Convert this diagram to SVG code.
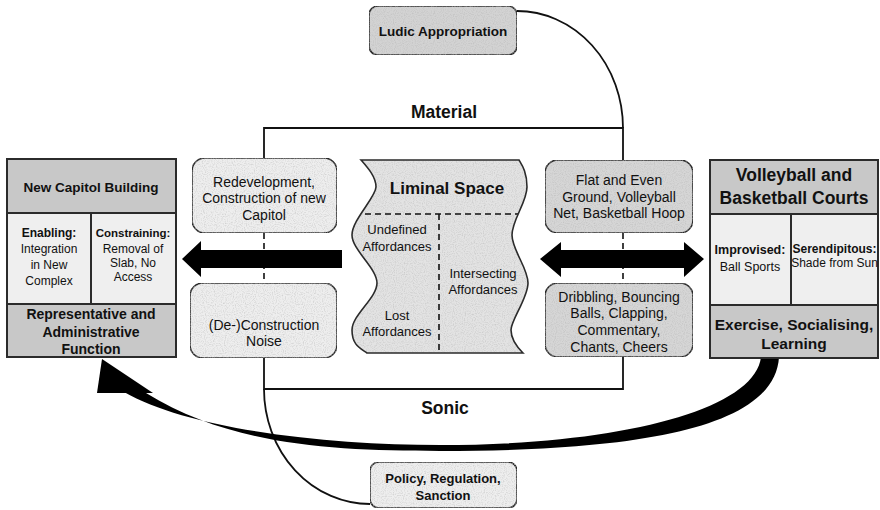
<svg xmlns="http://www.w3.org/2000/svg" width="880" height="510" viewBox="0 0 880 510">
  <style>
    text { font-family: "Liberation Sans", Arial, sans-serif; fill: #111; text-anchor: middle; }
    .b { font-weight: bold; }
    .h { font-size: 17.5px; font-weight: bold; }
    .t14 { font-size: 14px; }
    .t13 { font-size: 13px; }
    .t12 { font-size: 12px; }
    .frame { fill: none; stroke: #2b2b2b; stroke-width: 2; }
    .dark { fill: #c8c8c8; }
    .light { fill: #efefef; }
    .rbox { stroke: #2b2b2b; stroke-width: 1.6; }
    .line { fill: none; stroke: #111; stroke-width: 1.8; }
    .dash { fill: none; stroke: #111; stroke-width: 1.6; stroke-dasharray: 6 4; }
    .solid { fill: #000; }
  </style>
  <defs>
    <!-- fine paper grain used on the rounded boxes -->
    <filter id="grain" x="0" y="0" width="100%" height="100%">
      <feTurbulence type="fractalNoise" baseFrequency="0.9" numOctaves="1" seed="4" result="t"/>
      <feColorMatrix in="t" type="matrix" values="0 0 0 0 0.45  0 0 0 0 0.45  0 0 0 0 0.45  0 0 0 1.4 -0.62" result="dots"/>
      <feComposite in="dots" in2="SourceGraphic" operator="in" result="speck"/>
      <feMerge><feMergeNode in="SourceGraphic"/><feMergeNode in="speck"/></feMerge>
    </filter>
    <path id="liminalShape" d="M361,160 C368,168 376,177 376,187 S352,220 352,235 S377,268 377,283 S352,315 352,330 S360,348 367,353 L523,353 C518,348 511,340 511,330 S528,298 528,283 S512,250 512,235 S527,202 527,187 S522,165 519,160 Z"/>
    <clipPath id="liminalClip"><use href="#liminalShape"/></clipPath>
  </defs>

  <!-- connectors: frame lines, arcs and arrows -->
  <g id="connectors">
    <!-- material bracket -->
    <path class="line" d="M264,158 L264,128 L623,128 L623,160"/>
    <path class="line" d="M517,11 A106,117 0 0 1 623,128"/>
    <!-- sonic bracket -->
    <path class="line" d="M264,358 L264,389 L623,389 L623,357"/>
    <path class="line" d="M264,389 A106,115 0 0 0 370,504"/>
    <!-- dashed links between stacked boxes -->
    <line class="dash" x1="264" y1="233" x2="264" y2="283"/>
    <line class="dash" x1="623" y1="233" x2="623" y2="283"/>
    <!-- block arrows -->
    <polygon class="solid" points="182,259 201,241 201,250 342,250 342,268 201,268 201,277"/>
    <polygon class="solid" points="540,259 561,242 561,250 684,250 684,242 704,259 684,277 684,268 561,268 561,277"/>
    <!-- curved feedback arrow: tapering band plus head -->
    <path class="solid" d="M779,357 C775,428 640,451 440,451 C330,451 230,445 146,393 L124,392 C190,430 330,445 440,445 C620,445 755,410 761,357 Z"/>
    <polygon class="solid" points="102,359 97,393 153,393"/>
  </g>

  <!-- outer concept: New Capitol Building -->
  <g id="capitol">
    <rect class="dark" x="7" y="159" width="169" height="54"/>
    <rect class="light" x="7" y="213" width="169" height="91"/>
    <rect class="dark" x="7" y="304" width="169" height="53"/>
    <rect class="frame" x="7" y="159" width="169" height="198"/>
    <path class="frame" d="M7,213 H176 M7,304 H176 M91,213 V304"/>
    <text class="b" x="91" y="192" font-size="13.5">New Capitol Building</text>
    <text class="t12 b" x="49" y="237">Enabling:</text>
    <text class="t12" x="49" y="253">Integration</text>
    <text class="t12" x="49" y="269">in New</text>
    <text class="t12" x="49" y="285">Complex</text>
    <text class="b" x="133" y="237" font-size="11.5">Constraining:</text>
    <text class="t12" x="133" y="253">Removal of</text>
    <text class="t12" x="133" y="267">Slab, No</text>
    <text class="t12" x="133" y="281">Access</text>
    <text class="b" x="91" y="319" font-size="14">Representative and</text>
    <text class="b" x="91" y="337" font-size="14">Administrative</text>
    <text class="b" x="91" y="354" font-size="14">Function</text>
  </g>

  <!-- outer concept: Volleyball and Basketball Courts -->
  <g id="courts">
    <rect class="dark" x="710" y="160" width="168" height="54"/>
    <rect class="light" x="710" y="214" width="168" height="91"/>
    <rect class="dark" x="710" y="305" width="168" height="53"/>
    <rect class="frame" x="710" y="160" width="168" height="198"/>
    <path class="frame" d="M710,214 H878 M710,305 H878 M791,214 V305"/>
    <text class="h" x="794" y="181">Volleyball and</text>
    <text class="h" x="794" y="204">Basketball Courts</text>
    <text class="b" x="750" y="254" font-size="12.5">Improvised:</text>
    <text x="750" y="271" font-size="12.5">Ball Sports</text>
    <text class="b t12" x="834.5" y="253">Serendipitous:</text>
    <text class="t12" x="834.5" y="267">Shade from Sun</text>
    <text class="b" x="794" y="330" font-size="15.5">Exercise, Socialising,</text>
    <text class="b" x="794" y="349" font-size="15.5">Learning</text>
  </g>

  <g id="redevelopment">
    <rect class="rbox" x="192" y="158" width="145" height="75" rx="13" fill="#eeeeee" filter="url(#grain)"/>
    <text class="t14" x="264" y="187">Redevelopment,</text>
    <text class="t14" x="264" y="203">Construction of new</text>
    <text class="t14" x="264" y="220">Capitol</text>
  </g>

  <g id="construction-noise">
    <rect class="rbox" x="190" y="283" width="147" height="75" rx="13" fill="#eeeeee" filter="url(#grain)"/>
    <text class="t14" x="264" y="330">(De-)Construction</text>
    <text class="t14" x="264" y="346">Noise</text>
  </g>

  <g id="liminal-space">
    <use href="#liminalShape" fill="#e3e3e3" filter="url(#grain)"/>
    <g clip-path="url(#liminalClip)">
      <line class="dash" x1="345" y1="214" x2="535" y2="214"/>
      <line class="dash" x1="439" y1="214" x2="439" y2="353"/>
    </g>
    <use href="#liminalShape" fill="none" stroke="#2b2b2b" stroke-width="1.6"/>
    <text class="b" x="447" y="194" font-size="17">Liminal Space</text>
    <text class="t13" x="397" y="234">Undefined</text>
    <text class="t13" x="397" y="251">Affordances</text>
    <text class="t13" x="483" y="278">Intersecting</text>
    <text class="t13" x="483" y="294">Affordances</text>
    <text class="t13" x="397" y="320">Lost</text>
    <text class="t13" x="397" y="336">Affordances</text>
  </g>

  <g id="court-features">
    <rect class="rbox" x="545" y="160" width="148" height="73" rx="13" fill="#d6d6d6" filter="url(#grain)"/>
    <text class="t14" x="619" y="185">Flat and Even</text>
    <text class="t14" x="619" y="202">Ground, Volleyball</text>
    <text class="t14" x="619" y="218">Net, Basketball Hoop</text>
  </g>

  <g id="court-sounds">
    <rect class="rbox" x="545" y="283" width="148" height="74" rx="13" fill="#d6d6d6" filter="url(#grain)"/>
    <text class="t14" x="619" y="302">Dribbling, Bouncing</text>
    <text class="t14" x="619" y="318">Balls, Clapping,</text>
    <text class="t14" x="619" y="335">Commentary,</text>
    <text class="t14" x="619" y="352">Chants, Cheers</text>
  </g>

  <g id="ludic-appropriation">
    <rect class="rbox" x="369" y="6" width="148" height="49" rx="9" fill="#d3d3d3" filter="url(#grain)"/>
    <text class="b" x="443" y="36" font-size="13.5">Ludic Appropriation</text>
  </g>

  <g id="policy">
    <rect class="rbox" x="370" y="462" width="147" height="46" rx="9" fill="#eeeeee" filter="url(#grain)"/>
    <text class="b t13" x="443" y="483">Policy, Regulation,</text>
    <text class="b t13" x="443" y="500">Sanction</text>
  </g>

  <g id="labels">
    <text class="h" x="444" y="118">Material</text>
    <text class="h" x="445" y="414">Sonic</text>
  </g>
</svg>
